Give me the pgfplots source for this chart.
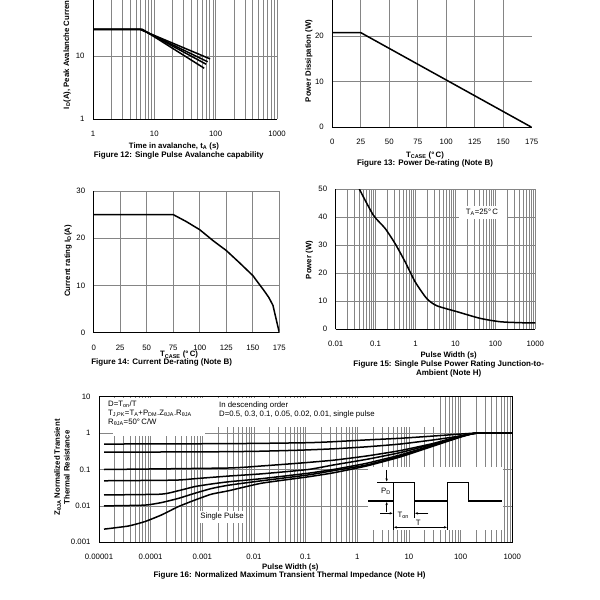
\documentclass[border=0pt]{standalone}
\usepackage{fontspec}
\setmainfont{Liberation Sans}
\usepackage{pgfplots}
\pgfplotsset{compat=1.18}
\usetikzlibrary{arrows.meta}

\pgfplotsset{
  sheet/.style={
    scale only axis, anchor=south west,
    font=\fontsize{7.8}{9}\selectfont,
    /pgf/number format/assume math mode=true,
    major tick length=0pt, minor tick length=0pt,
    grid style={black!48, line width=0.6pt},
    minor grid style={black!48, line width=0.6pt},
    axis line style={line width=0.9pt},
    xticklabel style={yshift=-8.5pt},
    yticklabel style={xshift=-5pt},
    label style={font=\fontsize{7.8}{9.6}\selectfont\bfseries},
    xlabel style={yshift=-1pt},
    title style={font=\fontsize{8}{8.8}\selectfont\bfseries, anchor=center, yshift=-6pt},
  },
  curve/.style={black, line width=1.5pt, line join=round},
}

\begin{document}
\begin{tikzpicture}
\useasboundingbox (0,0) rectangle (600pt,600pt);
\clip (0,0) rectangle (600pt,600pt);

% Figure 12
\begin{axis}[sheet, at={(93pt,481pt)}, width=184pt, height=126pt,
  xmode=log, ymode=log, xmin=1, xmax=1000, ymin=1, ymax=100,
  xtick={1,10,100,1000}, xticklabels={1,10,100,1000},
  ytick={1,10,100}, yticklabels={1,10,100},
  minor xtick={2,3,4,5,6,7,8,9,20,30,40,50,60,70,80,90,200,300,400,500,600,700,800,900},
  xmajorgrids, xminorgrids, ymajorgrids,
  axis x line*=bottom, axis y line*=left,
  xlabel={Time in avalanche, t\textsubscript{A} (s)},
  ylabel={I\textsubscript{D}(A), Peak Avalanche Current},
  title={Figure 12: Single Pulse Avalanche capability},
  xlabel style={at={(axis description cs:0.44,-0.214)}, anchor=center},
  ylabel style={at={(axis description cs:-0.141,0.52)}, anchor=center},
  title style={at={(axis description cs:0.466,-0.286)}},
]
\addplot[curve] table {
1 26.5
5.8 26.5
81 9.0
};
\addplot[curve] table {
1 26.5
6.0 26.5
74 8.1
};
\addplot[curve] table {
1 26.5
6.2 26.5
70 7.4
};
\addplot[curve] table {
1 26.5
6.4 26.5
65 6.4
};
\end{axis}

% Figure 13
\begin{axis}[sheet, at={(332.3pt,472.7pt)}, width=199.4pt, height=136.5pt,
  xmin=0, xmax=175, ymin=0, ymax=30,
  xtick={0,25,...,175}, ytick={0,10,20,30},
  ymajorgrids,
  extra x ticks={25,50,75,100,125,150}, extra x tick labels={},
  extra x tick style={grid=major},
  axis x line*=bottom, axis y line*=left,
  xlabel={T\textsubscript{CASE} (°\,C)},
  ylabel={Power Dissipation (W)},
  title={Figure 13: Power De-rating (Note B)},
  xlabel style={at={(axis description cs:0.465,-0.196)}, anchor=center},
  ylabel style={at={(axis description cs:-0.117,0.486)}, anchor=center},
  title style={at={(axis description cs:0.465,-0.262)}},
]
\addplot[curve] table {
0 20.8
25 20.8
175 0
};
\end{axis}

% Figure 14
\begin{axis}[sheet, at={(93.7pt,267.3pt)}, width=185.6pt, height=141.7pt,
  xmin=0, xmax=175, ymin=0, ymax=30,
  xtick={0,25,...,175}, ytick={0,10,20,30},
  xmajorgrids, ymajorgrids,
  axis x line*=bottom, axis y line*=left,
  xlabel={T\textsubscript{CASE} (°\,C)},
  ylabel={Current rating I\textsubscript{D}(A)},
  title={Figure 14: Current De-rating (Note B)},
  xlabel style={at={(axis description cs:0.46,-0.150)}, anchor=center},
  ylabel style={at={(axis description cs:-0.138,0.507)}, anchor=center},
  title style={at={(axis description cs:0.366,-0.209)}},
]
\addplot[curve] table {
0 25
75 25
87.5 23.5
100 21.8
112.5 19.5
125 17.4
137.5 14.8
150 12.1
160 9.1
165 7.5
169 5.8
175 0
};
\end{axis}

% Figure 15
\begin{axis}[sheet, at={(335.7pt,270.7pt)}, width=199.6pt, height=140.3pt,
  xmode=log, xmin=0.01, xmax=1000, ymin=0, ymax=50,
  xtick={0.01,0.1,1,10,100,1000}, xticklabels={0.01,0.1,1,10,100,1000},
  ytick={0,10,...,50},
  minor xtick={0.02,0.03,0.04,0.05,0.06,0.07,0.08,0.09,0.2,0.3,0.4,0.5,0.6,0.7,0.8,0.9,2,3,4,5,6,7,8,9,20,30,40,50,60,70,80,90,200,300,400,500,600,700,800,900},
  xmajorgrids, xminorgrids, ymajorgrids,
  axis x line*=bottom, axis y line*=left,
  xlabel={Pulse Width (s)},
  ylabel={Power (W)},
  title={Figure 15: Single Pulse Power Rating Junction-to-\\Ambient (Note H)},
  xlabel style={at={(axis description cs:0.566,-0.183)}, anchor=center},
  ylabel style={at={(axis description cs:-0.132,0.494)}, anchor=center},
  title style={at={(axis description cs:0.566,-0.281)}, align=center},
]
\addplot[curve, smooth, tension=0.4] table {
0.039 50
0.0875 40.7
0.172 36.0
0.306 30.6
0.546 24.1
0.97 17.0
1.9 11.0
3.4 8.4
10.8 6.3
41.5 3.9
131 2.7
417 2.35
1000 2.3
};
\end{axis}

% Figure 16
\begin{axis}[sheet, at={(99pt,57.7pt)}, width=413.3pt, height=145.6pt,
  xmode=log, ymode=log, xmin=1e-5, xmax=1000, ymin=0.001, ymax=10,
  xtick={1e-5,1e-4,0.001,0.01,0.1,1,10,100,1000},
  xticklabels={0.00001,0.0001,0.001,0.01,0.1,1,10,100,1000},
  ytick={0.001,0.01,0.1,1,10}, yticklabels={0.001,0.01,0.1,1,10},
  minor xtick={2e-5,3e-5,4e-5,5e-5,6e-5,7e-5,8e-5,9e-5,
    2e-4,3e-4,4e-4,5e-4,6e-4,7e-4,8e-4,9e-4,
    0.002,0.003,0.004,0.005,0.006,0.007,0.008,0.009,
    0.02,0.03,0.04,0.05,0.06,0.07,0.08,0.09,
    0.2,0.3,0.4,0.5,0.6,0.7,0.8,0.9,
    2,3,4,5,6,7,8,9,20,30,40,50,60,70,80,90,
    200,300,400,500,600,700,800,900},
  xmajorgrids, xminorgrids, ymajorgrids,
  xlabel={Pulse Width (s)},
  ylabel={Z\textsubscript{θJA} Normalized Transient\\Thermal Resistance},
  title={Figure 16: Normalized Maximum Transient Thermal Impedance (Note H)},
  xlabel style={at={(axis description cs:0.463,-0.168)}, anchor=center},
  ylabel style={at={(axis description cs:-0.0895,0.514)}, anchor=center, align=center},
  title style={at={(axis description cs:0.461,-0.231)}},
]
% D=0.5
\addplot[curve, smooth, tension=0.3] table {
1.25e-5 0.5
1e-3 0.51
0.01 0.52
0.112 0.545
0.343 0.58
1.51 0.65
6.7 0.72
29.5 0.83
98 0.94
204 1.0
1000 1.0
};
% D=0.3
\addplot[curve, smooth, tension=0.3] table {
1.25e-5 0.3
1e-3 0.305
0.01 0.315
0.078 0.34
0.343 0.37
1.51 0.42
6.7 0.5
29.5 0.65
98 0.83
204 1.0
1000 1.0
};
% D=0.1
\addplot[curve, smooth, tension=0.3] table {
1.25e-5 0.1
3.2e-3 0.11
0.014 0.125
0.078 0.15
0.343 0.18
1.51 0.235
6.7 0.33
29.5 0.52
98 0.83
204 1.0
1000 1.0
};
% D=0.05
\addplot[curve, smooth, tension=0.3] table {
1.25e-5 0.049
3e-4 0.051
7.2e-4 0.056
3.2e-3 0.066
0.014 0.076
0.112 0.10
0.343 0.133
1.51 0.19
6.7 0.29
29.5 0.5
98 0.8
204 1.0
1000 1.0
};
% D=0.02
\addplot[curve, smooth, tension=0.3] table {
1.25e-5 0.02
1.6e-4 0.021
3.4e-4 0.026
7.2e-4 0.034
1.5e-3 0.040
3.2e-3 0.046
0.014 0.056
0.112 0.079
0.343 0.1
1.51 0.148
6.7 0.25
29.5 0.47
98 0.8
204 1.0
1000 1.0
};
% D=0.01
\addplot[curve, smooth, tension=0.3] table {
1.25e-5 0.01
7.7e-5 0.0105
1.6e-4 0.0123
3.4e-4 0.016
7.2e-4 0.0223
1.5e-3 0.030
3.2e-3 0.037
0.014 0.049
0.112 0.071
0.343 0.093
1.51 0.133
6.7 0.235
29.5 0.46
98 0.8
204 1.0
1000 1.0
};
% single pulse
\addplot[curve, smooth, tension=0.3] table {
1.25e-5 0.0023
3.7e-5 0.0028
7.7e-5 0.0037
1.6e-4 0.0056
3.4e-4 0.0095
7.2e-4 0.0145
1.5e-3 0.021
3.2e-3 0.026
0.014 0.042
0.112 0.063
0.343 0.081
1.51 0.125
6.7 0.22
29.5 0.44
98 0.77
204 1.0
1000 1.0
};
\end{axis}

% annotations, in pixel coordinates of the sheet
\begin{scope}[x=1pt, y=-1pt, yshift=600pt, font=\fontsize{7.8}{9}\selectfont]
  % Figure 15 label
  \fill[white] (459,206) rectangle (507,219);
  \node at (482,212.3) {T\textsubscript{A}=25°\,C};
  % Figure 16 text boxes
  \fill[white] (112.5,398) rectangle (205,436);
  \fill[white] (205,398) rectangle (437,427.5);
  \node[anchor=west, inner sep=0] at (108,404) {D=T\textsubscript{on}/T};
  \node[anchor=west, inner sep=0] at (108,413.5) {T\textsubscript{J,PK}=T\textsubscript{A}+P\textsubscript{DM}.Z\textsubscript{θJA}.R\textsubscript{θJA}};
  \node[anchor=west, inner sep=0] at (108,422.5) {R\textsubscript{θJA}=50°\,C/W};
  \node[anchor=west, inner sep=0] at (219,405) {In descending order};
  \node[anchor=west, inner sep=0] at (219,414) {D=0.5, 0.3, 0.1, 0.05, 0.02, 0.01, single pulse};
  \fill[white] (198,511) rectangle (246,523);
  \node at (222,516.7) {Single Pulse};
  % pulse train sketch
  \fill[white] (368,467.5) rectangle (503,530);
  \draw[line width=1.1pt] (368.3,501) -- (393.3,501) -- (393.3,482.3) -- (414.3,482.3)
     -- (414.3,501) -- (447.7,501) -- (447.7,482.3) -- (468.3,482.3) -- (468.3,501) -- (502.3,501);
  \draw[line width=0.6pt] (377.3,482.3) -- (393.3,482.3);
  \draw[line width=0.6pt] (393.3,501) -- (393.3,530);
  \draw[line width=0.6pt] (414.3,501) -- (414.3,518);
  \draw[line width=0.6pt] (447.7,501) -- (447.7,530);
  \draw[line width=0.6pt, -{Stealth[length=3pt,width=2.4pt]}] (386.7,470) -- (386.7,481.5);
  \draw[line width=0.6pt, -{Stealth[length=3pt,width=2.4pt]}] (386.7,512) -- (386.7,502);
  \node at (386,491.7) {P\textsubscript{D}};
  \draw[line width=0.6pt, -{Stealth[length=3pt,width=2.4pt]}] (380,513.3) -- (392.6,513.3);
  \draw[line width=0.6pt, -{Stealth[length=3pt,width=2.4pt]}] (428.3,513.3) -- (415,513.3);
  \node at (403.3,515) {T\textsubscript{on}};
  \draw[line width=0.6pt, {Stealth[length=3pt,width=2.4pt]}-{Stealth[length=3pt,width=2.4pt]}] (394,527.3) -- (446.9,527.3);
  \node at (418.3,522.5) {T};
\end{scope}
\end{tikzpicture}
\end{document}
